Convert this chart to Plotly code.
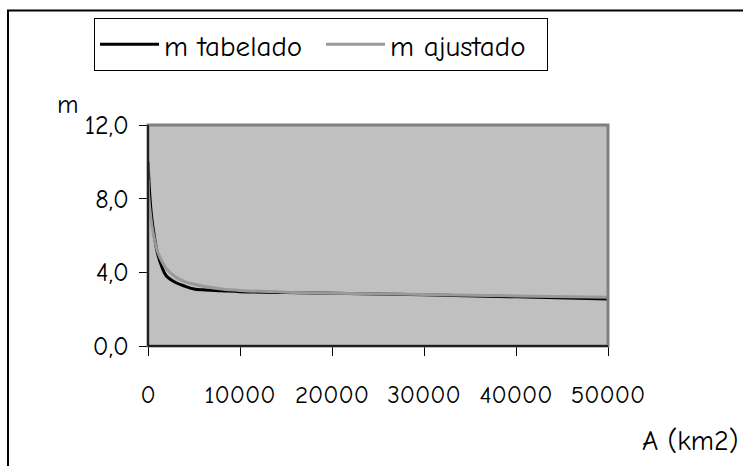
import plotly.graph_objects as go

area_km2 = [10, 100, 300, 500, 1000, 1500, 2000, 3000, 4000, 5000, 6000, 8000,
            10000, 15000, 20000, 30000, 40000, 50000]
m_tabelado = [10.0, 9.0, 7.5, 6.6, 5.1, 4.3, 3.8, 3.45, 3.25, 3.1, 3.05, 3.0,
              2.95, 2.9, 2.87, 2.78, 2.67, 2.55]
m_ajustado = [9.0, 8.0, 7.0, 6.3, 5.2, 4.6, 4.2, 3.75, 3.5, 3.35, 3.25, 3.1,
              3.02, 2.92, 2.87, 2.8, 2.72, 2.65]
x_ticks = [0, 10000, 20000, 30000, 40000, 50000]
y_ticks = [0, 4, 8, 12]

FONT = "Comic Sans MS, Comic Neue, Lato, sans-serif"

fig = go.Figure()
fig.add_trace(go.Scatter(x=area_km2, y=m_tabelado, mode="lines", name="m tabelado",
                         line=dict(color="black", width=3, shape="spline")))
fig.add_trace(go.Scatter(x=area_km2, y=m_ajustado, mode="lines", name="m ajustado",
                         line=dict(color="#999999", width=3, shape="spline")))

W, H = 743, 466
L, R, T, B = 148, 743 - 608, 125, 466 - 346
pw, ph = W - L - R, H - T - B

def px(xp):
    return (xp - L) / pw

def py(yp):
    return (H - B - yp) / ph

fig.update_layout(
    width=W, height=H,
    margin=dict(l=L, r=R, t=T, b=B),
    paper_bgcolor="white",
    plot_bgcolor="#c0c0c0",
    separators=",.",
    font=dict(family=FONT, size=25, color="black"),
    showlegend=True,
    legend=dict(orientation="h", x=px(94), y=py(18), xanchor="left", yanchor="top",
                bordercolor="black", borderwidth=1, bgcolor="white",
                font=dict(family=FONT, size=29), itemwidth=59,
                entrywidth=152, entrywidthmode="pixels",
                tracegroupgap=0),
    xaxis=dict(range=[0, 50000], tickvals=x_ticks, ticks="outside", ticklen=9,
               tickcolor="black", showline=True, linecolor="black", linewidth=1,
               showgrid=False, zeroline=False, ticklabelstandoff=17,
               tickfont=dict(family=FONT, size=25), tickformat="d"),
    yaxis=dict(range=[0, 12], tickvals=y_ticks, ticks="outside", ticklen=8,
               tickcolor="black", showline=True, linecolor="black", linewidth=1,
               showgrid=False, zeroline=False, tickformat=".1f",
               ticklabelstandoff=5,
               tickfont=dict(family=FONT, size=26)),
    shapes=[
        dict(type="rect", xref="paper", yref="paper", x0=0, x1=1, y0=0, y1=1,
             line=dict(color="#808080", width=3), layer="above"),
        dict(type="line", xref="paper", yref="paper", x0=0, x1=0, y0=0, y1=1,
             line=dict(color="black", width=1.5), layer="above"),
        dict(type="line", xref="paper", yref="paper", x0=0, x1=1, y0=0, y1=0,
             line=dict(color="black", width=1.5), layer="above"),
        dict(type="rect", xref="paper", yref="paper", x0=px(8), x1=px(760),
             y0=py(480), y1=py(10.5), line=dict(color="black", width=2),
             layer="below"),
    ],
    annotations=[
        dict(text="m", xref="paper", yref="paper", x=px(68), y=py(105),
             showarrow=False, xanchor="center", yanchor="middle",
             font=dict(family=FONT, size=26)),
        dict(text="A (km2)", xref="paper", yref="paper", x=px(690), y=py(441),
             showarrow=False, xanchor="center", yanchor="middle",
             font=dict(family=FONT, size=28)),
    ],
)

fig.write_html("out.html", config={"displayModeBar": False},
               post_script="document.body.style.margin='0';")
